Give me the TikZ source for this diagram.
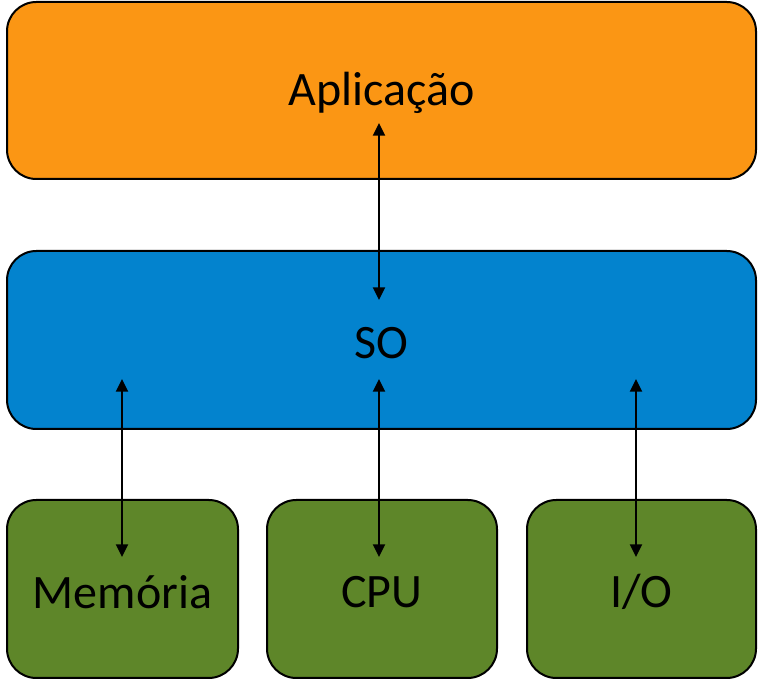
\documentclass[tikz,border=0pt]{standalone}
\usepackage{fontspec}
\setmainfont{Carlito}
\usetikzlibrary{arrows.meta}
\definecolor{apporange}{RGB}{251,150,20}
\definecolor{soblue}{RGB}{3,131,206}
\definecolor{hwgreen}{RGB}{94,134,41}
\tikzset{
  layerbox/.style={draw=black, line width=1.5pt, rounded corners=22pt},
  layertext/.style={font=\fontsize{36}{43}\selectfont, text=black},
  link/.style={line width=1.5pt, {Triangle[length=9.5pt,width=9pt]}-{Triangle[length=9.5pt,width=9pt]}}
}
\begin{document}
\begin{tikzpicture}[x=0.75pt, y=-0.75pt]
\useasboundingbox (0,0) rectangle (758,680);
\draw[layerbox, fill=apporange] (7,2) rectangle (756,179);
\node[layertext] (app) at (381.5,93) {Aplicação};
\draw[layerbox, fill=soblue] (7,251) rectangle (756,429);
\node[layertext] (so) at (381.5,343) {SO};
\draw[layerbox, fill=hwgreen] (7,500) rectangle (238,678);
\node[layertext] (mem) at (122.5,592) {Memória};
\draw[layerbox, fill=hwgreen] (267,500) rectangle (497,678);
\node[layertext] (cpu) at (382,592) {CPU};
\draw[layerbox, fill=hwgreen] (527,500) rectangle (756,678);
\node[layertext] (io) at (641.5,592) {I/O};
\coordinate (a1) at (379,123);
\coordinate (a2) at (379,300);
\coordinate (m1) at (122,379);
\coordinate (m2) at (122,557);
\coordinate (c1) at (379,379);
\coordinate (c2) at (379,557);
\coordinate (i1) at (636,379);
\coordinate (i2) at (636,557);
\draw[link] (a1) -- (a2);
\draw[link] (m1) -- (m2);
\draw[link] (c1) -- (c2);
\draw[link] (i1) -- (i2);
\end{tikzpicture}
\end{document}
